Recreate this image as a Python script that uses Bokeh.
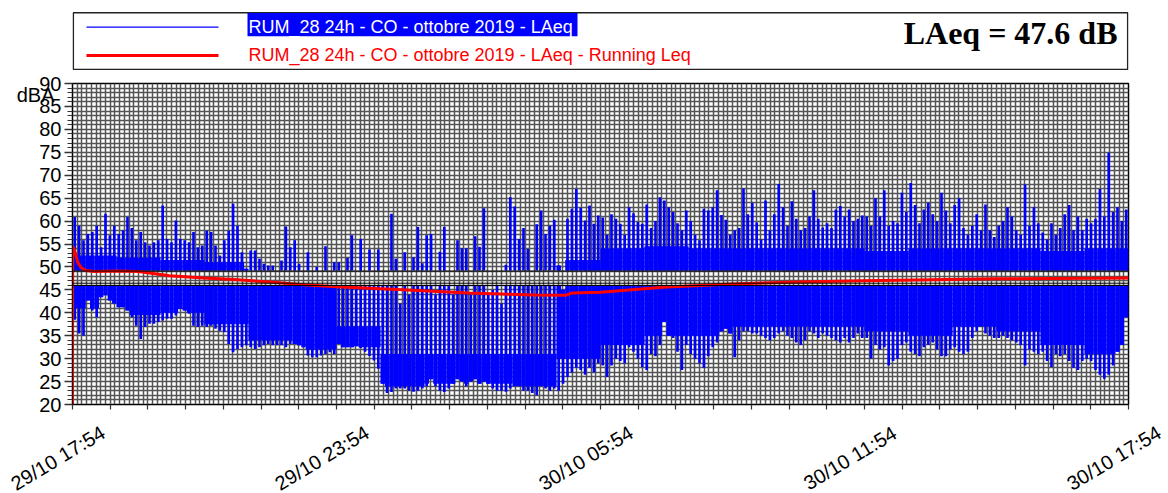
import numpy as np
from bokeh.plotting import figure
from bokeh.models import (ColumnDataSource, FixedTicker, Range1d, Span, LinearAxis, Div)
from bokeh.layouts import column
from bokeh.embed import file_html
from bokeh.resources import INLINE
from bokeh.core.properties import value

# ---- series names and summary ----
SERIES_NAME = "RUM_28 24h - CO - ottobre 2019 - LAeq"
RUNNING_NAME = "RUM_28 24h - CO - ottobre 2019 - LAeq - Running Leq"
TOTAL_LAEQ = 47.6
UNIT = "dBA"

# ---- time axis (hours from start of measurement) ----
TICK_HOURS = [0, 6, 12, 18, 24]
TICK_LABELS = ["29/10 17:54", "29/10 23:54", "30/10 05:54", "30/10 11:54", "30/10 17:54"]
BIN_H = 0.1  # each bin = 6 minutes

# max level per 6-minute bin (dBA), one row per hour
LAEQ_MAX = [
    60.9, 59.0, 55.8, 57.2, 57.6, 59.0, 54.3, 61.6, 56.9, 59.0,
    57.2, 58.0, 60.9, 58.5, 55.8, 57.6, 55.4, 54.7, 55.4, 55.8,
    63.4, 56.1, 55.4, 60.1, 56.1, 55.8, 55.4, 57.6, 54.3, 54.7,
    57.9, 57.6, 54.7, 52.5, 55.8, 57.9, 63.8, 59.0, 53.2, 49.6,
    53.6, 53.6, 51.8, 50.7, 50.3, 50.3, 48.5, 51.4, 58.8, 54.3,
    55.8, 50.7, 48.5, 53.2, 48.0, 50.0, 48.5, 54.5, 48.0, 51.0,
    51.0, 47.0, 52.0, 56.9, 47.0, 56.1, 47.0, 53.8, 46.0, 53.8,
    47.0, 46.0, 61.6, 51.8, 42.0, 53.2, 44.0, 52.1, 58.7, 50.8,
    56.9, 57.2, 44.0, 53.3, 58.7, 46.0, 44.0, 55.8, 54.1, 54.1,
    44.0, 56.7, 54.4, 62.8, 44.0, 45.0, 46.0, 42.0, 50.5, 65.2,
    63.2, 56.1, 58.5, 53.9, 47.0, 59.3, 62.3, 57.2, 59.0, 60.3,
    50.3, 45.0, 60.5, 62.7, 67.0, 62.9, 60.1, 63.4, 59.4, 61.2,
    60.8, 57.0, 61.5, 60.5, 59.4, 57.0, 63.0, 61.7, 59.8, 59.4,
    63.6, 58.5, 60.0, 65.2, 64.5, 63.0, 62.0, 59.5, 58.0, 62.3,
    60.0, 57.0, 55.8, 62.7, 62.3, 63.0, 66.7, 61.3, 60.3, 57.0,
    58.0, 58.5, 67.1, 61.5, 64.0, 59.7, 56.0, 64.5, 58.0, 61.5,
    68.1, 63.0, 59.0, 64.3, 60.5, 58.0, 58.5, 61.0, 66.7, 60.5,
    58.6, 59.5, 58.5, 62.5, 63.3, 61.0, 62.5, 60.0, 60.5, 61.2,
    61.0, 59.0, 65.0, 61.0, 66.7, 59.0, 60.0, 59.5, 66.2, 62.0,
    68.3, 63.5, 59.5, 62.5, 64.0, 61.5, 60.0, 66.2, 62.3, 59.5,
    63.5, 65.0, 58.5, 57.0, 59.0, 61.5, 58.0, 63.6, 58.0, 56.5,
    59.0, 60.0, 63.0, 61.0, 58.0, 57.0, 68.0, 59.0, 63.0, 59.5,
    57.5, 56.0, 59.5, 57.0, 58.5, 61.5, 63.5, 58.0, 61.0, 58.0,
    60.5, 59.5, 60.5, 67.0, 61.0, 74.9, 62.0, 63.0, 60.0, 62.5,
]

# min level per 6-minute bin (dBA), one row per hour
LAEQ_MIN = [
    38.5, 35.5, 35.0, 42.7, 40.5, 39.0, 43.4, 43.8, 42.7, 42.0,
    41.2, 41.2, 40.5, 39.0, 37.2, 34.3, 36.9, 37.6, 37.6, 38.0,
    38.3, 38.7, 38.7, 39.4, 40.9, 40.5, 39.8, 37.2, 36.9, 37.2,
    36.9, 37.2, 36.5, 36.1, 35.8, 33.2, 31.4, 32.1, 32.5, 32.9,
    32.5, 32.1, 32.5, 32.9, 33.2, 32.9, 32.9, 32.9, 32.5, 33.2,
    33.2, 32.9, 32.5, 30.7, 30.3, 30.3, 30.7, 31.0, 31.4, 31.0,
    33.2, 32.5, 32.5, 32.5, 32.7, 32.3, 31.5, 30.6, 29.6, 27.8,
    24.5, 22.5, 22.7, 23.5, 23.5, 23.5, 23.0, 22.8, 23.0, 23.5,
    24.0, 25.5, 24.0, 23.0, 22.7, 23.5, 24.5, 25.5, 25.0, 24.0,
    25.0, 25.5, 24.5, 25.0, 24.5, 23.5, 23.0, 23.0, 22.8, 23.5,
    24.0, 24.0, 23.0, 23.0, 22.5, 22.0, 24.0, 23.5, 23.0, 23.5,
    23.0, 24.5, 26.0, 27.0, 28.0, 27.5, 26.5, 28.0, 27.0, 29.0,
    28.5, 26.0, 28.5, 30.0, 29.5, 29.0, 32.5, 31.5, 30.0, 28.2,
    27.5, 31.0, 30.5, 33.0, 38.0, 35.0, 34.5, 31.5, 27.5, 33.0,
    31.0, 30.0, 29.0, 28.0, 30.5, 32.5, 33.5, 36.0, 36.5, 35.5,
    30.3, 34.0, 36.0, 36.0, 35.5, 35.5, 35.0, 34.5, 34.0, 34.5,
    35.5, 36.0, 35.0, 34.5, 33.5, 33.0, 34.0, 36.0, 35.5, 34.5,
    35.5, 35.0, 34.5, 34.0, 33.5, 34.5, 33.5, 34.5, 35.5, 34.5,
    34.5, 30.0, 33.0, 32.0, 32.5, 28.5, 29.5, 30.0, 33.0, 33.5,
    31.5, 31.0, 30.5, 32.5, 33.0, 33.5, 32.0, 30.5, 30.5, 32.0,
    32.5, 31.5, 31.0, 31.5, 34.5, 36.0, 37.0, 35.5, 35.0, 34.5,
    34.5, 35.0, 34.5, 34.0, 33.5, 33.0, 28.5, 32.0, 31.5, 31.0,
    31.5, 29.5, 28.2, 31.0, 30.5, 31.0, 29.5, 28.0, 27.5, 29.5,
    30.0, 29.5, 27.5, 26.5, 25.6, 26.5, 28.5, 31.5, 33.0, 39.0,
]

# per hour: range where the 1-s trace is dense enough to look solid
BODY_HI = [52.5, 52.0, 51.5, 51.0, 46.0, 46.0, 37.0, 31.0, 31.0, 31.0, 31.0, 51.5,
           54.0, 54.5, 54.0, 54.0, 54.0, 54.0, 53.5, 54.0, 54.0, 54.0, 53.5, 54.0]
BODY_LO = [41.0, 39.5, 40.0, 37.5, 34.0, 32.0, 32.5, 24.0, 24.5, 24.5, 24.0, 30.0,
           33.0, 35.0, 35.0, 37.0, 37.0, 37.0, 36.0, 35.0, 37.0, 36.0, 33.0, 31.0]

# running Leq
RUN_T = [0, 0.005, 0.05, 0.12, 0.2, 0.3, 0.5, 1.0, 1.5, 2.2, 3.0, 3.75, 4.5, 5.25, 6.0,
         7.5, 9.0, 10.5, 11.2, 11.35, 12.0, 13.5, 15.0, 16.5, 18.0, 21.0, 24.0]
RUN_LEQ = [20.0, 54.5, 53.5, 51.0, 49.8, 49.2, 49.0, 49.1, 49.0, 48.1, 47.6, 47.2, 46.7,
           46.1, 45.7, 45.0, 44.3, 43.9, 43.8, 44.3, 44.5, 45.6, 46.3, 46.7, 47.0, 47.4, 47.6]

# levels where the trace display is split
UPPER_FLOOR = 49.2
LOWER_CEIL = 46.0
SPLIT_LINES = [49.1, 46.45, 45.95]

BLUE = "#0000ff"
RED = "#ff0000"
GRID = "#555555"
FONT = "Liberation Sans"

# page geometry (px)
W = 1168
LEG_H = 70
FRAME_L, FRAME_R, FRAME_T, FRAME_H = 72, 40, 13, 321
AX_B = 14
MAIN_H = FRAME_T + FRAME_H + AX_B
LAB_H = 493 - LEG_H - MAIN_H

# ---------------- bar sources ----------------
hi = np.array(LAEQ_MAX)
lo = np.array(LAEQ_MIN)
n = len(hi)
t = (np.arange(n) + 0.5) * BIN_H
hour = np.minimum((t // 1).astype(int), 23)
b_lo = np.maximum(lo, np.array(BODY_LO)[hour])
b_hi = np.minimum(hi, np.array(BODY_HI)[hour])


def split(a, b):
    """Cut the span a..b into the part above the split and the part below it."""
    up_b = np.maximum(a, UPPER_FLOOR)
    ok_u = (b > UPPER_FLOOR) & (b > a)
    lw_t = np.minimum(b, LOWER_CEIL)
    ok_l = (a < LOWER_CEIL) & (b > a)
    nan = np.nan
    return (np.where(ok_u, up_b, nan), np.where(ok_u, b, nan),
            np.where(ok_l, a, nan), np.where(ok_l, lw_t, nan))


bu0, bu1, bl0, bl1 = split(b_lo, b_hi)
su0, su1, sl0, sl1 = split(lo, hi)
src = ColumnDataSource(dict(t=t, bu0=bu0, bu1=bu1, bl0=bl0, bl1=bl1,
                            su0=su0, su1=su1, sl0=sl0, sl1=sl1))

# ---------------- main chart ----------------
p = figure(width=W, height=MAIN_H, x_range=Range1d(0, 24), y_range=Range1d(20, 90),
           output_backend="svg", toolbar_location=None, title=None,
           min_border_left=FRAME_L, min_border_right=FRAME_R,
           min_border_top=FRAME_T, min_border_bottom=AX_B)
p.background_fill_color = "white"
p.border_fill_color = "white"
p.outline_line_color = "black"
p.outline_line_width = 1.5

p.xgrid.ticker = FixedTicker(ticks=list(np.linspace(0, 24, 4 * 56 + 1)))
p.ygrid.ticker = FixedTicker(ticks=list(range(20, 91)))
for g in (p.xgrid, p.ygrid):
    g.grid_line_color = GRID
    g.grid_line_width = 1.5
    g.grid_line_alpha = 1.0

p.yaxis.ticker = FixedTicker(ticks=list(range(20, 91, 5)), minor_ticks=list(range(20, 91)))
p.yaxis.major_tick_out = 8
p.yaxis.major_tick_in = 0
p.yaxis.minor_tick_out = 5
p.yaxis.minor_tick_in = 0
p.yaxis.major_label_standoff = 3
p.yaxis.major_label_text_font = FONT
p.yaxis.major_label_text_font_size = "20px"
p.yaxis.major_label_text_color = "black"
p.yaxis.axis_line_color = "black"
p.yaxis.major_tick_line_color = "#333333"
p.yaxis.minor_tick_line_color = "#333333"
p.yaxis.major_tick_line_width = 1.5
p.yaxis.minor_tick_line_width = 1.2

# time axis: short ticks every 6/7 h; the long ticks at the labelled times come from a
# second, label-free axis pinned to the bottom of the frame
p.xaxis.ticker = FixedTicker(ticks=[], minor_ticks=list(np.linspace(0, 24, 29)))
p.xaxis.minor_tick_out = 5
p.xaxis.minor_tick_in = 0
p.xaxis.minor_tick_line_color = "#333333"
p.xaxis.minor_tick_line_width = 1.2
p.xaxis.axis_line_color = "black"
long_ticks = LinearAxis(ticker=FixedTicker(ticks=[], minor_ticks=TICK_HOURS),
                        fixed_location=20, axis_line_color=None,
                        minor_tick_out=10, minor_tick_in=0,
                        minor_tick_line_color="#333333", minor_tick_line_width=1.5)
p.add_layout(long_ticks, "below")

# unit caption drawn by a second, bare left axis
unit_axis = LinearAxis(ticker=FixedTicker(ticks=[87.5]), major_label_overrides={87.5: UNIT},
                       axis_line_color=None, major_tick_line_color=None,
                       minor_tick_line_color=None, major_tick_out=0, major_tick_in=0,
                       major_label_standoff=-18, major_label_text_font=FONT,
                       major_label_text_font_size="20px", major_label_text_color="black")
p.add_layout(unit_axis, "left")

# LAeq trace: solid body + narrow extremes, above and below the split
p.vbar(x="t", width=BIN_H * 1.03, bottom="bu0", top="bu1", source=src,
       fill_color=BLUE, line_color=None)
p.vbar(x="t", width=BIN_H * 1.03, bottom="bl0", top="bl1", source=src,
       fill_color=BLUE, line_color=None)
p.vbar(x="t", width=BIN_H * 0.6, bottom="su0", top="su1", source=src,
       fill_color=BLUE, line_color=None)
p.vbar(x="t", width=BIN_H * 0.6, bottom="sl0", top="sl1", source=src,
       fill_color=BLUE, line_color=None)

for lvl in SPLIT_LINES:
    p.add_layout(Span(location=lvl, dimension="width", line_color="black", line_width=1))

p.line(RUN_T, RUN_LEQ, line_color=RED, line_width=3)

# ---------------- legend strip ----------------
lg = figure(width=W, height=LEG_H, x_range=Range1d(FRAME_L, W - FRAME_R),
            y_range=Range1d(LEG_H, 0), output_backend="svg", toolbar_location=None,
            title=None, min_border_left=FRAME_L, min_border_right=FRAME_R,
            min_border_top=0, min_border_bottom=0)
lg.axis.visible = False
lg.grid.visible = False
lg.outline_line_color = None
lg.background_fill_color = "white"
lg.border_fill_color = "white"

lg.quad(left=[72.8], right=[1127.2], top=[12.3], bottom=[69], fill_color=None,
        line_color="#222222", line_width=1.5)
lg.quad(left=[247], right=[577], top=[12.5], bottom=[35.7], fill_color=BLUE, line_color=None)
lg.segment(x0=[86], x1=[218], y0=[26.7], y1=[26.7], line_color=BLUE, line_width=1.2)
lg.segment(x0=[86], x1=[218], y0=[55], y1=[55], line_color=RED, line_width=3)
lg.text(x=[248], y=[26.5], text=[SERIES_NAME], text_color="white",
        text_font=value(FONT), text_font_size="18px",
        text_baseline="alphabetic", text_align="left")
lg.text(x=[248], y=[54], text=[RUNNING_NAME], text_color=RED,
        text_font=value(FONT), text_font_size="18px",
        text_baseline="alphabetic", text_align="left")
lg.text(x=[1117], y=[32.5], text=[f"LAeq = {TOTAL_LAEQ} dB"], text_color="black",
        text_font=value("Liberation Serif"), text_font_style="bold", text_font_size="32px",
        text_baseline="alphabetic", text_align="right")

# ---------------- slanted time labels ----------------
px_per_h = (W - FRAME_L - FRAME_R) / 24.0
label_mid = 458 - LEG_H - MAIN_H
spans = []
for h, lab in zip(TICK_HOURS, TICK_LABELS):
    cx = FRAME_L + h * px_per_h - 14
    spans.append(
        f'<span style="position:absolute;left:{cx:.1f}px;top:{label_mid}px;'
        f'transform:translate(-50%,-50%) rotate(-31deg);white-space:nowrap;'
        f'font-family:\'{FONT}\';font-size:20px;color:#000;line-height:1;">{lab}</span>')
labels = Div(text=f'<div style="position:relative;width:{W}px;height:{LAB_H}px;">'
                  + "".join(spans) + "</div>",
             width=W, height=LAB_H, margin=0)

layout = column(lg, p, labels, spacing=0)
open("out.html", "w").write(file_html(layout, INLINE))
